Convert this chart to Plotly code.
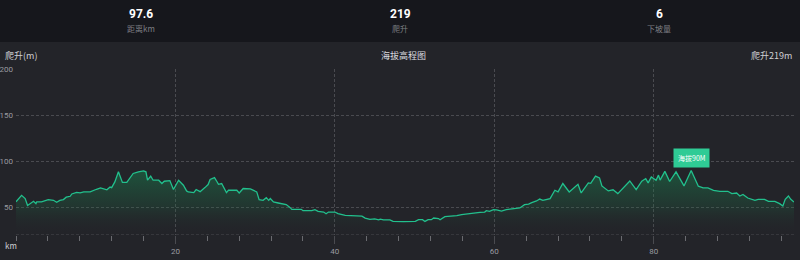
import plotly.graph_objects as go

# ---- data ----
km = [0, 0.7, 1.15, 1.45, 2.2, 2.5, 2.6, 3.2, 4.05, 4.7, 5.1, 5.5, 5.95, 6.3, 6.8, 7.0, 7.6, 8.05, 8.5, 9.3,
      10.1, 10.6, 11.4, 11.8, 12.0, 12.4, 12.85, 13.35, 13.9, 14.3, 14.7, 15.35, 16.0, 16.3, 16.5, 16.9, 17.2,
      17.9, 18.3, 18.6, 19.3, 19.75, 20.4, 21.0, 21.4, 21.6, 22.3, 22.6, 23.1, 23.7, 24.1, 24.35, 24.9, 25.2,
      25.4, 25.8, 26.0, 26.4, 26.65, 27.7, 28.0, 28.5, 29.4, 30.2, 30.5, 31.0, 31.4, 31.7, 31.9, 32.3, 32.9,
      33.5, 33.9, 34.4, 34.6, 35.8, 36.0, 37.1, 37.5, 37.9, 38.6, 38.9, 39.2, 40.0, 40.4, 41.3, 41.9, 43.2,
      43.4, 43.8, 44.4, 45.0, 45.5, 45.7, 46.1, 46.9, 47.3, 48.6, 50.1, 50.5, 51.0, 51.3, 51.7, 52.1, 52.4,
      53.0, 53.2, 53.8, 54.7, 55.3, 55.9, 56.7, 57.6, 58.2, 58.8, 59.0, 59.4, 59.9, 60.3, 60.9, 61.5, 62.6,
      63.2, 63.8, 64.3, 64.7, 65.3, 65.7, 66.1, 67.0, 67.6, 68.0, 68.6, 69.4, 70.5, 70.9, 71.8, 72.1, 72.7,
      73.2, 73.5, 74.3, 74.9, 75.5, 77.0, 77.8, 78.5, 79.0, 79.3, 79.7, 80.3, 80.6, 80.8, 81.4, 82.0, 82.8,
      83.8, 84.7, 85.6, 86.2, 86.8, 87.5, 88.3, 89.3, 89.8, 90.4, 90.8, 91.2, 91.8, 92.7, 93.1, 93.9, 94.4,
      95.2, 95.8, 96.2, 96.5, 96.9, 97.2, 97.6]
elev = [56, 63, 59.5, 52, 56.5, 54, 56, 56, 58.4, 57.6, 55.5, 57.6, 58.4, 61, 62, 64.5, 66.3, 65.6, 66.7, 66.7,
        69.6, 71, 69, 72, 71.4, 77.6, 88.5, 77, 77, 82.3, 86.7, 88.5, 89.6, 88.5, 79.4, 83.8, 79.4,
        79.4, 75.8, 78.3, 79, 69.3, 79.4, 74, 67.8, 66.7, 66, 69.3, 67, 71.4, 74.7, 80.2, 82.3, 78,
        75, 75.8, 72.9, 66, 68.5, 68.5, 65.6, 70.4, 70, 66.7, 58.4, 57.6, 60.5, 57.6, 59.6, 55.8, 54.7,
        53.8, 53, 49.7, 47.8, 47.8, 46.4, 46.4, 47.5, 45.6, 44.9, 43.1, 44.9, 44.9, 43.1, 41.3, 41.3, 40.5,
        40.5, 38.4, 36.9, 37.5, 36.4, 37.2, 36.4, 36.4, 34.7, 34.4, 34.7, 36.6, 36.6, 34.7, 36.6, 36.6, 38.4,
        37.8, 36.6, 39.9, 40.2, 41, 42, 43.1, 43.8, 44.5, 44.9, 46.4, 45.7, 47.5, 47.2, 46, 47.5, 48.2,
        49.3, 52.9, 53.5, 55.1, 56.9, 59, 57.6, 59.5, 68.5, 66.7, 75.8, 66.7, 75, 65.6, 76.5, 76, 83.8,
        81.9, 73.2, 67.8, 69, 64.9, 78.6, 69.3, 78.3, 81.2, 76.5, 83, 79.4, 84.9, 79.5, 89, 78, 88.5,
        73.2, 90, 72.9, 71, 71, 68.5, 67.4, 67.4, 64.9, 65.5, 62.3, 64, 60.1, 57.6, 58.7, 58.7, 56.5,
        56.5, 54, 51.4, 58.7, 62.3, 58.7, 55.8]

y_ticks = [50, 100, 150, 200]
x_ticks = [20, 40, 60, 80]
stat_values = ["97.6", "219", "6"]
stat_labels = ["距离km", "爬升", "下坡量"]
peak_km, peak_elev = 84.7, 90
peak_label = "海拔90M"

W, H = 800, 260
L, R, T, B = 16, 6, 69, 25
PW, PH = W - L - R, H - T - B


def px(xp):
    return (xp - L) / PW


def py(yp):
    return (H - B - yp) / PH


BG = "#232429"
TOP = "#16171c"
LINE = "#22c08d"
GRID = "#4a4b50"
DASH = "3px,2px"

fig = go.Figure()
fig.add_trace(go.Scatter(
    x=km, y=elev, mode="lines",
    line=dict(color=LINE, width=1.3),
    fill="tozeroy",
    fillgradient=dict(type="vertical", start=20, stop=90,
                      colorscale=[[0, "rgba(35,36,41,0)"], [0.45, "rgba(30,110,70,0.25)"],
                                  [1, "rgba(24,130,80,0.5)"]]),
    hoverinfo="skip", showlegend=False,
))

shapes = [
    dict(type="rect", xref="paper", yref="paper", x0=px(-5), x1=px(W + 5), y0=py(42), y1=py(-5),
         fillcolor=TOP, line=dict(width=0), layer="below"),
    dict(type="line", xref="x", yref="y", x0=0, x1=97.6, y0=20, y1=20,
         line=dict(color=GRID, width=1, dash=DASH), layer="above"),
]

annotations = []
for xp, v, lab in zip([141, 400, 659], stat_values, stat_labels):
    annotations.append(dict(xref="paper", yref="paper", x=px(xp), y=py(14), text=f"<b>{v}</b>",
                            showarrow=False, xanchor="center", yanchor="middle",
                            font=dict(family="Roboto", size=12, color="#ffffff")))
    annotations.append(dict(xref="paper", yref="paper", x=px(xp), y=py(28), text=lab,
                            showarrow=False, xanchor="center", yanchor="middle",
                            font=dict(family="Noto Sans CJK SC", size=8, color="#7d7e83")))

annotations += [
    dict(xref="paper", yref="paper", x=px(3), y=py(56), text="爬升(m)", showarrow=False,
         xanchor="left", yanchor="middle", font=dict(family="Noto Sans CJK SC", size=9, color="#cfd0d4")),
    dict(xref="paper", yref="paper", x=px(403), y=py(56), text="海拔高程图", showarrow=False,
         xanchor="center", yanchor="middle", font=dict(family="Noto Sans CJK SC", size=9, color="#dcdde0")),
    dict(xref="paper", yref="paper", x=px(794), y=py(56), text="爬升219m", showarrow=False,
         xanchor="right", yanchor="middle", font=dict(family="Noto Sans CJK SC", size=9, color="#cfd0d4")),
    dict(xref="paper", yref="paper", x=px(3), y=py(245), text="km", showarrow=False,
         xanchor="left", yanchor="middle", font=dict(family="Noto Sans CJK SC", size=8, color="#cfd0d4")),
    dict(xref="x", yref="y", x=peak_km, y=peak_elev, text=peak_label, showarrow=False,
         xanchor="center", yanchor="bottom", yshift=2, bgcolor="#2fcb95", borderpad=4,
         font=dict(family="Noto Sans CJK SC", size=7, color="#ffffff")),
]

fig.update_layout(
    width=W, height=H, margin=dict(l=L, r=R, t=T, b=B, autoexpand=False),
    paper_bgcolor=BG, plot_bgcolor=BG,
    shapes=shapes, annotations=annotations,
    xaxis=dict(range=[0, 97.6], tickvals=x_ticks, showgrid=True, gridcolor=GRID, griddash=DASH,
               gridwidth=1, zeroline=False, showline=False, automargin=False,
               ticks="outside", ticklen=8, tickcolor=GRID, tickwidth=1,
               minor=dict(tick0=0, dtick=4, ticks="outside", ticklen=5, tickcolor="#6a6b70", showgrid=False),
               tickfont=dict(family="Roboto", size=8, color="#9a9ba0")),
    yaxis=dict(range=[20, 200], tickvals=y_ticks, showgrid=True, gridcolor=GRID, griddash=DASH,
               gridwidth=1, zeroline=False, showline=False, ticks="", ticklabelstandoff=2,
               automargin=False,
               tickfont=dict(family="Roboto", size=8, color="#9a9ba0")),
)

fig.write_html("out.html")
